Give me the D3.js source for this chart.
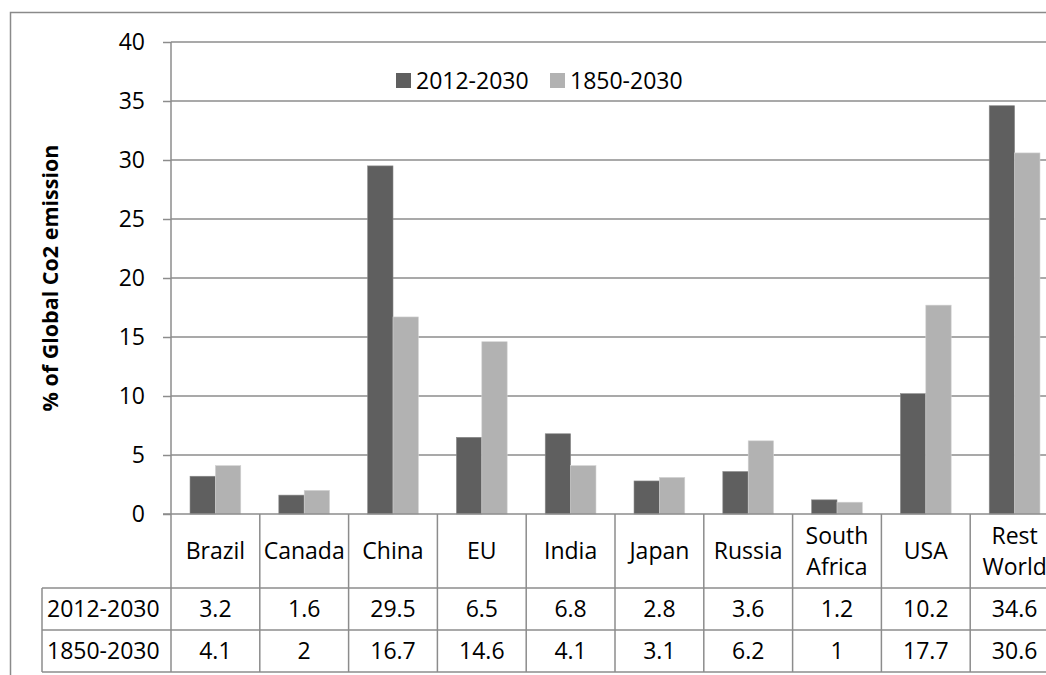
<!DOCTYPE html>
<html>
<head>
<meta charset="utf-8">
<script src="https://cdn.jsdelivr.net/npm/d3@7"></script>
<style>
  html, body { margin: 0; padding: 0; background: #fff; }
  svg { display: block; }
  text { font-family: "Open Sans", Lato, sans-serif; fill: #000; }
</style>
</head>
<body>
<svg id="chart" width="1046" height="675"></svg>
<script>
// Share of global CO2 emissions by region
const categories = ["Brazil", "Canada", "China", "EU", "India", "Japan", "Russia", "South Africa", "USA", "Rest World"];
const categoryLines = [["Brazil"], ["Canada"], ["China"], ["EU"], ["India"], ["Japan"], ["Russia"], ["South", "Africa"], ["USA"], ["Rest", "World"]];
const seriesNames = ["2012-2030", "1850-2030"];
const values2012_2030 = [3.2, 1.6, 29.5, 6.5, 6.8, 2.8, 3.6, 1.2, 10.2, 34.6];
const values1850_2030 = [4.1, 2, 16.7, 14.6, 4.1, 3.1, 6.2, 1, 17.7, 30.6];
const yTicks = [0, 5, 10, 15, 20, 25, 30, 35, 40];
const seriesColors = ["#5f5f5f", "#b2b2b2"];
const yTitle = "% of Global Co2 emission";

const seriesValues = [values2012_2030, values1850_2030];
const lineColor = "#8c8c8c";
const fontFamily = "'Open Sans', Lato, sans-serif";
const fontSize = "23px";

const svg = d3.select("#chart");

// chart frame
svg.append("rect")
  .attr("x", 10.5).attr("y", 12.5)
  .attr("width", 1100).attr("height", 700)
  .attr("fill", "none").attr("stroke", "#8a8a8a").attr("stroke-width", 1.5);

const plot = { left: 171, right: 1059, top: 42, bottom: 514 };

const x = d3.scaleBand().domain(categories).range([plot.left, plot.right]).paddingInner(0).paddingOuter(0);
const xs = d3.scaleBand().domain(seriesNames).range([0, x.bandwidth()]).paddingInner(0).paddingOuter(0.75);
const y = d3.scaleLinear().domain([0, 40]).range([plot.bottom, plot.top]);

// horizontal gridlines
svg.append("g").selectAll("line").data(yTicks.filter(t => t > 0)).join("line")
  .attr("x1", plot.left).attr("x2", plot.right)
  .attr("y1", d => y(d)).attr("y2", d => y(d))
  .attr("stroke", lineColor).attr("stroke-width", 1.5);

// y axis
const yAxis = svg.append("g")
  .attr("transform", `translate(${plot.left},0)`)
  .call(d3.axisLeft(y).tickValues(yTicks).tickSize(8).tickPadding(18));
yAxis.select(".domain").remove();
yAxis.selectAll(".tick line").attr("stroke", lineColor).attr("stroke-width", 1.5);
yAxis.selectAll(".tick text")
  .style("font-family", fontFamily)
  .style("font-size", fontSize).attr("fill", "#000");

// bars
const groups = svg.append("g").selectAll("g").data(seriesNames).join("g")
  .attr("fill", (d, i) => seriesColors[i]);
groups.each(function (name, si) {
  d3.select(this).selectAll("rect").data(categories).join("rect")
    .attr("x", c => x(c) + xs(name))
    .attr("width", xs.bandwidth())
    .attr("y", (c, ci) => y(seriesValues[si][ci]))
    .attr("height", (c, ci) => y(0) - y(seriesValues[si][ci]))
    .attr("stroke", si === 0 ? "#8a8a8a" : "#d2d2d2")
    .attr("stroke-width", 0.6);
});

// y axis line and category axis line
svg.append("line")
  .attr("x1", plot.left).attr("x2", plot.left)
  .attr("y1", plot.top).attr("y2", 672)
  .attr("stroke", lineColor).attr("stroke-width", 1.5);
svg.append("line")
  .attr("x1", plot.left - 8).attr("x2", plot.right)
  .attr("y1", plot.bottom).attr("y2", plot.bottom)
  .attr("stroke", lineColor).attr("stroke-width", 1.5);

// data table under the plot
const table = { catBottom: 588, row1Bottom: 630, row2Bottom: 672, headerLeft: 42 };
const tg = svg.append("g");
const boundaries = categories.map(c => x(c) + x.bandwidth());
tg.selectAll("line.v").data(boundaries).join("line")
  .attr("class", "v")
  .attr("x1", d => d).attr("x2", d => d)
  .attr("y1", plot.bottom).attr("y2", table.row2Bottom)
  .attr("stroke", lineColor).attr("stroke-width", 1.5);
tg.append("line")
  .attr("x1", table.headerLeft).attr("x2", table.headerLeft)
  .attr("y1", table.catBottom).attr("y2", table.row2Bottom)
  .attr("stroke", lineColor).attr("stroke-width", 1.5);
tg.selectAll("line.h").data([table.catBottom, table.row1Bottom, table.row2Bottom]).join("line")
  .attr("class", "h")
  .attr("x1", table.headerLeft).attr("x2", plot.right)
  .attr("y1", d => d).attr("y2", d => d)
  .attr("stroke", lineColor).attr("stroke-width", 1.5);

// category labels
const catMid = (plot.bottom + table.catBottom) / 2;
tg.selectAll("text.cat").data(categories).join("text")
  .attr("class", "cat")
  .attr("text-anchor", "middle")
  .style("font-size", fontSize)
  .each(function (c, i) {
    const lines = categoryLines[i];
    const lh = 31;
    const y0 = catMid - (lines.length - 1) * lh / 2;
    d3.select(this).selectAll("tspan").data(lines).join("tspan")
      .attr("x", x(c) + x.bandwidth() / 2)
      .attr("y", (d, k) => y0 + k * lh)
      .attr("dy", "0.35em")
      .text(d => d);
  });

// value rows
const rowMids = [(table.catBottom + table.row1Bottom) / 2, (table.row1Bottom + table.row2Bottom) / 2];
seriesNames.forEach((name, si) => {
  tg.append("text")
    .attr("x", table.headerLeft + 5)
    .attr("y", rowMids[si]).attr("dy", "0.35em")
    .style("font-size", fontSize)
    .text(name);
  tg.selectAll(`text.val${si}`).data(categories).join("text")
    .attr("class", `val${si}`)
    .attr("x", c => x(c) + x.bandwidth() / 2)
    .attr("y", rowMids[si]).attr("dy", "0.35em")
    .attr("text-anchor", "middle")
    .style("font-size", fontSize)
    .text((c, ci) => seriesValues[si][ci]);
});

// legend
const legend = svg.append("g");
const legendItems = [{ x: 396, name: seriesNames[0], color: seriesColors[0] }, { x: 550, name: seriesNames[1], color: seriesColors[1] }];
legendItems.forEach(it => {
  legend.append("rect").attr("x", it.x).attr("y", 73).attr("width", 15).attr("height", 15).attr("fill", it.color);
  legend.append("text").attr("x", it.x + 20).attr("y", 80.5).attr("dy", "0.35em")
    .style("font-size", fontSize).text(it.name);
});

// y axis title
svg.append("text")
  .attr("transform", `translate(58, ${(plot.top + plot.bottom) / 2}) rotate(-90)`)
  .attr("text-anchor", "middle")
  .style("font-size", "21.5px").style("font-weight", "bold")
  .text(yTitle);
</script>
</body>
</html>
